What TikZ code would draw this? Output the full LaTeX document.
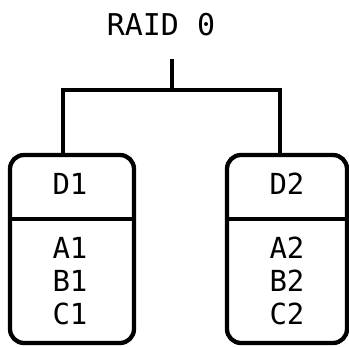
\documentclass[tikz,border=0pt]{standalone}
\usepackage{fontspec}
\setmonofont{DejaVu Sans Mono}
\usetikzlibrary{positioning}

\begin{document}
\begin{tikzpicture}[
      x=1pt,y=-1pt,line width=4.3pt,
      disk/.style={draw,rounded corners=14pt,minimum width=124pt,minimum height=188pt},
      txt/.style={font=\ttfamily\fontsize{29}{33}\selectfont,align=center,anchor=base}
    ]
    \useasboundingbox (0,0) rectangle (349,347);
    \node [txt,font=\ttfamily\fontsize{30}{36}\selectfont] (title) at (161,36) {RAID 0};
    \coordinate (top) at (172,59);
    \coordinate (fork) at (172,90);
    \node [disk] (d1) at (72,249) {};
    \node [disk,minimum width=120pt] (d2) at (287,249) {};
    \node [txt] (n1) at (70,195) {D1};
    \node [txt] (n2) at (287,195) {D2};
    \node [txt] (c1) at (70,325) {A1\\B1\\C1};
    \node [txt] (c2) at (287,325) {A2\\B2\\C2};
    \draw (d1.west |- 0,219) -- (d1.east |- 0,219);
    \draw (d2.west |- 0,219) -- (d2.east |- 0,219);
    \draw (top) -- (fork);
    \draw ([xshift=-9pt]d1.north) |- (fork) -| ([xshift=-7pt]d2.north); % Gabel zu beiden Platten
\end{tikzpicture}
\end{document}
